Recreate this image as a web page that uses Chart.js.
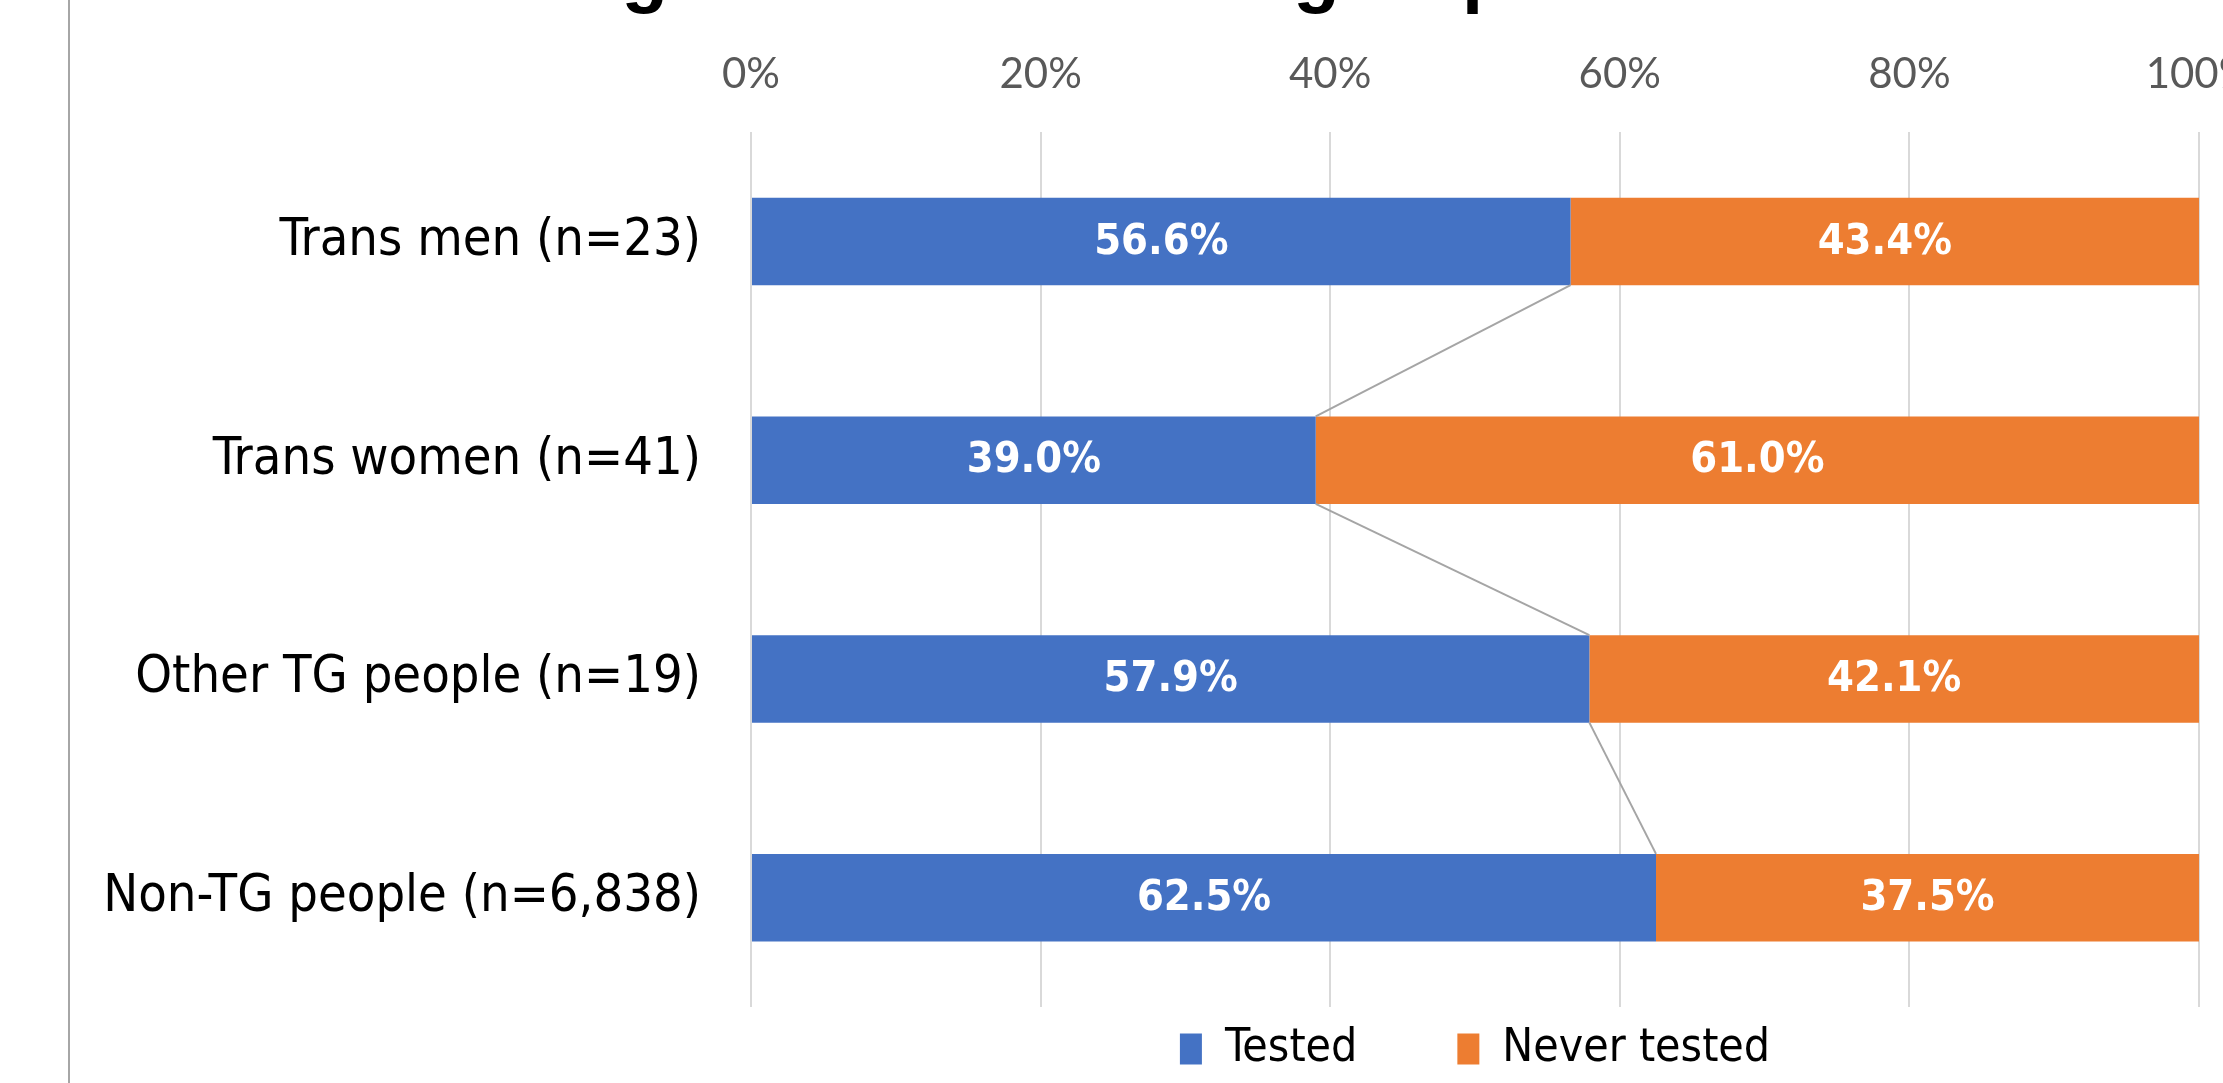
<!DOCTYPE html>
<html><head><meta charset="utf-8">
<script src="https://cdn.jsdelivr.net/npm/chart.js@4.4.1/dist/chart.umd.min.js"></script>
<style>html,body{margin:0;padding:0;background:#fff;overflow:hidden}canvas{display:block}</style>
</head><body>
<canvas id="c" width="2223" height="1083" style="width:2223px;height:1083px"></canvas>
<script>
// ---- data ----
const categories = ["Trans men (n=23)", "Trans women (n=41)", "Other TG people (n=19)", "Non-TG people (n=6,838)"];
const seriesNames = ["Tested", "Never tested"];
const tested = [56.6, 39.0, 57.9, 62.5];
const neverTested = [43.4, 61.0, 42.1, 37.5];
const axisMin = 0, axisMax = 100, axisStep = 20;
const titleText = "HIV testing rates across the groups";

// ---- styles ----
const BLUE = '#4472C4', ORANGE = '#ED7D31';
const LABEL_FONT = '"DejaVu Sans Condensed", "DejaVu Sans", sans-serif';
const TICK_FONT = 'Lato, "Open Sans", sans-serif';
const PLOT_LEFT = 751, PLOT_TOP = 132, LEGEND_CY = 1049, LEGEND_PAD = 100, LEGEND_FONT = 46;

const framePlugin = {
  id: 'frame',
  beforeDraw(chart) {
    const ctx = chart.ctx;
    ctx.save();
    ctx.strokeStyle = '#A6A6A6';
    ctx.lineWidth = 2;
    ctx.beginPath(); ctx.moveTo(69, 0); ctx.lineTo(69, chart.height); ctx.stroke();
    ctx.restore();
  },
  afterDraw(chart) {
    const ctx = chart.ctx;
    ctx.save();
    ctx.fillStyle = '#000';
    ctx.font = 'bold 76px "Liberation Sans", Arial, sans-serif';
    ctx.textAlign = 'left';
    ctx.textBaseline = 'alphabetic';
    ctx.fillText(titleText, 271, -2);
    ctx.restore();
  }
};

const seriesLinePlugin = {
  id: 'seriesLines',
  afterDatasetsDraw(chart) {
    const meta = chart.getDatasetMeta(0);
    const ctx = chart.ctx;
    ctx.save();
    ctx.strokeStyle = '#A5A5A5';
    ctx.lineWidth = 2;
    for (let i = 0; i < meta.data.length - 1; i++) {
      const a = meta.data[i].getProps(['x', 'y', 'height'], true);
      const b = meta.data[i + 1].getProps(['x', 'y', 'height'], true);
      ctx.beginPath();
      ctx.moveTo(a.x, a.y + a.height / 2);
      ctx.lineTo(b.x, b.y - b.height / 2);
      ctx.stroke();
    }
    ctx.restore();
  }
};

const dataLabelPlugin = {
  id: 'dataLabels',
  afterDatasetsDraw(chart) {
    const ctx = chart.ctx;
    ctx.save();
    ctx.fillStyle = '#FFFFFF';
    ctx.font = 'bold 43px ' + LABEL_FONT;
    ctx.textAlign = 'center';
    ctx.textBaseline = 'middle';
    chart.data.datasets.forEach((ds, di) => {
      const meta = chart.getDatasetMeta(di);
      meta.data.forEach((el, i) => {
        const p = el.getCenterPoint();
        ctx.fillText(ds.data[i].toFixed(1) + '%', p.x, p.y + 1);
      });
    });
    ctx.restore();
  }
};

const legendPlacePlugin = {
  id: 'legendPlace',
  afterLayout(chart) {
    const lg = chart.legend;
    const a = chart.chartArea;
    lg.left = a.left; lg.right = a.right; lg.width = a.right - a.left;
    lg.top = LEGEND_CY - LEGEND_PAD - LEGEND_FONT / 2;
    lg.bottom = lg.top + lg.height;
  }
};

new Chart(document.getElementById('c'), {
  type: 'bar',
  data: {
    labels: categories,
    datasets: [
      { label: seriesNames[0], data: tested, backgroundColor: BLUE, borderWidth: 0 },
      { label: seriesNames[1], data: neverTested, backgroundColor: ORANGE, borderWidth: 0 }
    ]
  },
  options: {
    indexAxis: 'y',
    responsive: false,
    devicePixelRatio: 1,
    animation: false,
    layout: { padding: { left: 0, right: 24, top: 0, bottom: -80 } },
    datasets: { bar: { categoryPercentage: 0.4, barPercentage: 1.0 } },
    scales: {
      x: {
        position: 'top',
        stacked: true,
        min: axisMin, max: axisMax,
        ticks: {
          stepSize: axisStep,
          color: '#595959',
          font: { family: TICK_FONT, size: 42 },
          padding: 32,
          maxRotation: 0,
          callback: v => v + '%'
        },
        grid: { color: '#D9D9D9', lineWidth: 2, drawTicks: false },
        border: { display: false },
        afterFit(s) { s.height = PLOT_TOP; s.paddingLeft = 0; s.paddingRight = 0; }
      },
      y: {
        stacked: true,
        ticks: {
          color: '#000000',
          font: { family: LABEL_FONT, size: 52 },
          padding: 50
        },
        grid: { display: false, drawTicks: false },
        border: { display: false },
        afterFit(s) { s.width = PLOT_LEFT; s.paddingTop = 0; s.paddingBottom = 0; }
      }
    },
    plugins: {
      title: { display: false },
      tooltip: { enabled: false },
      legend: {
        position: 'bottom',
        labels: {
          color: '#000000',
          font: { family: LABEL_FONT, size: LEGEND_FONT },
          boxWidth: 22,
          boxHeight: 31,
          padding: LEGEND_PAD
        }
      }
    }
  },
  plugins: [framePlugin, seriesLinePlugin, dataLabelPlugin, legendPlacePlugin]
});
</script>
</body></html>
